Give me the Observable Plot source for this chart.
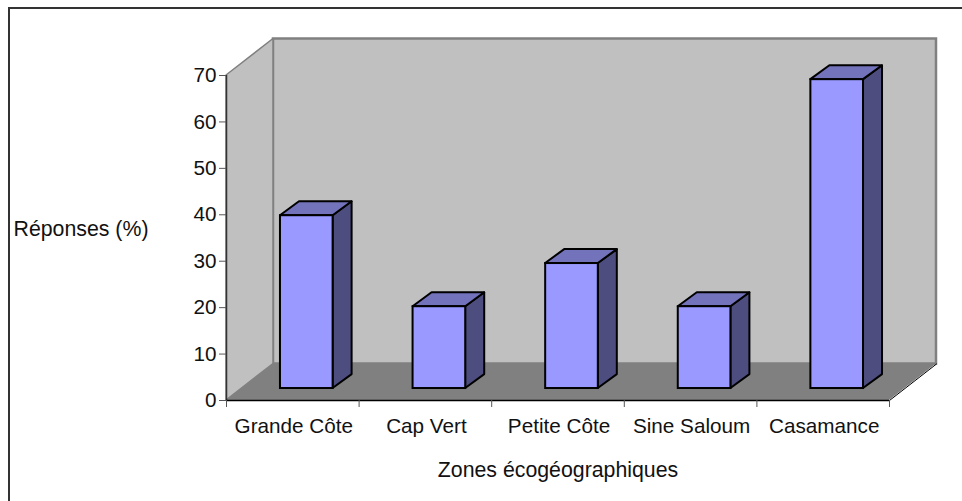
<!DOCTYPE html>
<html lang="fr">
<head>
<meta charset="utf-8">
<script src="https://cdn.jsdelivr.net/npm/d3@7"></script>
<script src="https://cdn.jsdelivr.net/npm/@observablehq/plot@0.6"></script>
<style>
  html, body { margin: 0; padding: 0; background: #fff; overflow: hidden; }
  #page { position: relative; width: 962px; height: 501px; }
  #edge { position: absolute; left: 8px; top: 7px; right: 0; bottom: 0; border-top: 2px solid #333; border-left: 2px solid #333; }
  #chart { position: absolute; left: 0; top: 0; }
  #chart svg { display: block; }
</style>
</head>
<body>
<div id="page"><div id="edge"></div><div id="chart"></div></div>
<script>
const zones = ["Grande Côte", "Cap Vert", "Petite Côte", "Sine Saloum", "Casamance"];
const reponses = [39.8, 20.2, 29.5, 20.2, 69.1];
const yTicks = [0, 10, 20, 30, 40, 50, 60, 70];
const xTicks = [0, 1, 2, 3, 4, 5];
const yMax = 70;
const xTitle = "Zones écogéographiques";
const yTitle = "Réponses (%)";

// 3-D projection, in axis units
const wallDx = 0.3544, wallDy = 7.86;
const barDx = 0.1433, barDy = 3.0, barBase = 2.58;
const barStart = 0.407, barWidth = 0.397;

const side = (k, x, b, t, dx, dy) => [
  {k, x, y1: b, y2: t},
  {k, x: x + dx, y1: b + dy, y2: t + dy}
];
const cap = (k, x1, x2, y, dx, dy) => [
  {k, x1, x2, y},
  {k, x1: x1 + dx, x2: x2 + dx, y: y + dy}
];

const bars = zones.map((zone, i) => ({zone, x1: i + barStart, x2: i + barStart + barWidth, top: reponses[i]}));
const barSides = bars.flatMap(d => side(d.zone, d.x2, barBase, d.top, barDx, barDy));
const barCaps = bars.flatMap(d => cap(d.zone, d.x1, d.x2, d.top, barDx, barDy));
const n = zones.length;

const plot = Plot.plot({
  width: 962, height: 501,
  marginLeft: 226, marginRight: 73, marginTop: 75, marginBottom: 101,
  style: {fontFamily: "'Liberation Sans', Arial, sans-serif", fontSize: "20.7px", color: "#111", background: "transparent", overflow: "visible"},
  x: {domain: [0, n], label: null},
  y: {domain: [0, yMax], label: null},
  marks: [
    // back wall
    Plot.rect([0], {x1: wallDx, x2: n + wallDx, y1: wallDy, y2: yMax + wallDy, fill: "#c0c0c0", stroke: "#808080", strokeWidth: 2.5}),
    // left wall
    Plot.area(side("wall", 0, 0, yMax, wallDx, wallDy), {x1: "x", y1: "y1", y2: "y2", fill: "#c0c0c0", stroke: "#808080", strokeWidth: 1.5}),
    // floor
    Plot.area(cap("floor", 0, n, 0, wallDx, wallDy), {x1: "x1", x2: "x2", y1: "y", fill: "#808080"}),
    Plot.line([{x: n, y: 0}, {x: n + wallDx, y: wallDy}], {x: "x", y: "y", stroke: "#000", strokeWidth: 1}),
    // bars
    Plot.area(barSides, {x1: "x", y1: "y1", y2: "y2", z: "k", fill: "#4d4d80", stroke: "#000", strokeWidth: 2, strokeLinejoin: "round"}),
    Plot.area(barCaps, {x1: "x1", x2: "x2", y1: "y", z: "k", fill: "#7373bb", stroke: "#000", strokeWidth: 2, strokeLinejoin: "round"}),
    Plot.rect(bars, {x1: "x1", x2: "x2", y1: barBase, y2: "top", fill: "#9999ff", stroke: "#000", strokeWidth: 2}),
    // axes
    Plot.ruleX([0], {y1: 0, y2: yMax, stroke: "#333", strokeWidth: 1.5}),
    Plot.ruleY([0], {x1: 0, x2: n, stroke: "#000", strokeWidth: 1.5}),
    Plot.axisY({ticks: yTicks, tickSize: 7, tickPadding: 3, stroke: "#555", label: null, fontSize: 20.7, fill: "#111"}),
    Plot.axisX({ticks: xTicks, tickSize: 7, tickFormat: () => "", stroke: "#555", label: null}),
    Plot.text(zones, {x: (d, i) => i + 0.5, y: 0, text: d => d, dx: 1, dy: 26, fontSize: 20.7, fill: "#111"}),
    Plot.text([xTitle], {x: n / 2, y: 0, text: d => d, dy: 70, fontSize: 21.3, fill: "#111"}),
    Plot.text([yTitle], {x: -1.606, y: 36.8, text: d => d, textAnchor: "start", fontSize: 21.3, fill: "#111"})
  ]
});
document.getElementById("chart").appendChild(plot);
</script>
</body>
</html>
